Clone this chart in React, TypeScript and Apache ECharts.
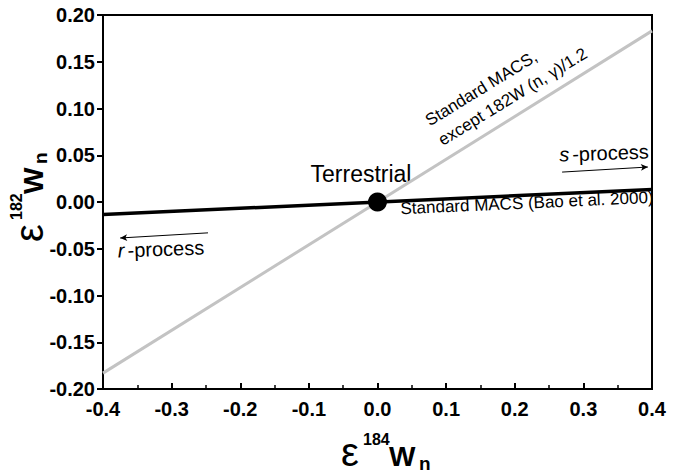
import React, { useEffect, useRef } from "react";
import * as echarts from "echarts";

const FONT = '"Liberation Sans", Arial, sans-serif';

// Data
const xEnds = [-0.4, 0.4];
const standardMacsY = [-0.0135, 0.0135];
const modifiedMacsY = [-0.183, 0.183];
const terrestrialPoint = [0, 0];
const sProcessArrow = [
  [0.269, 0.032],
  [0.394, 0.0374],
];
const rProcessArrow = [
  [-0.247, -0.033],
  [-0.375, -0.0385],
];

function titleChildren(sup: string) {
  const base = { fontFamily: FONT, fill: "#000", align: "left", verticalAlign: "middle" };
  return [
    { type: "text", x: -2, y: -13.9, style: { ...base, text: "ε", fontSize: 40 } },
    { type: "text", x: 20, y: -26.5, style: { ...base, text: sup, fontSize: 16, fontWeight: "bold" } },
    { type: "text", x: 46, y: -9.7, style: { ...base, text: "W", fontSize: 28, fontWeight: "bold" } },
    { type: "text", x: 76, y: -2.6, style: { ...base, text: "n", fontSize: 19, fontWeight: "bold" } },
  ];
}

export default function App() {
  const ref = useRef<HTMLDivElement>(null);
  useEffect(() => {
    if (!ref.current) return;
    const chart = echarts.init(ref.current, null, { renderer: "svg" });
    const option: any = {
      animation: false,
      backgroundColor: "#fff",
      grid: {
        left: 103,
        right: 31,
        top: 15,
        bottom: 85,
        show: true,
        borderColor: "#000",
        borderWidth: 2,
        backgroundColor: "transparent",
      },
      xAxis: {
        type: "value",
        min: -0.4,
        max: 0.4,
        interval: 0.1,
        axisLine: { show: true, onZero: false, lineStyle: { color: "#000", width: 2 } },
        axisTick: { show: true, inside: true, length: 6, lineStyle: { color: "#000", width: 2 } },
        minorTick: { show: true, splitNumber: 2, length: 4, lineStyle: { color: "#000", width: 1.5 } },
        splitLine: { show: false },
        axisLabel: {
          color: "#000",
          fontSize: 20,
          fontWeight: "bold",
          fontFamily: FONT,
          margin: 10,
          formatter: (v: number) => v.toFixed(1),
        },
      },
      yAxis: {
        type: "value",
        min: -0.2,
        max: 0.2,
        interval: 0.05,
        axisLine: { show: true, onZero: false, lineStyle: { color: "#000", width: 2 } },
        axisTick: { show: true, inside: false, length: 6, lineStyle: { color: "#000", width: 2 } },
        splitLine: { show: false },
        axisLabel: {
          color: "#000",
          fontSize: 20,
          fontWeight: "bold",
          fontFamily: FONT,
          margin: 8,
          formatter: (v: number) => v.toFixed(2),
        },
      },
      series: [
        {
          type: "line",
          name: "Standard MACS, except 182W (n, γ)/1.2",
          data: xEnds.map((x, i) => [x, modifiedMacsY[i]]),
          symbol: "none",
          lineStyle: { color: "#c3c3c3", width: 3 },
          silent: true,
        },
        {
          type: "line",
          name: "Standard MACS (Bao et al. 2000)",
          data: xEnds.map((x, i) => [x, standardMacsY[i]]),
          symbol: "none",
          lineStyle: { color: "#000", width: 3.5 },
          silent: true,
          markLine: {
            silent: true,
            symbol: ["none", "arrow"],
            symbolSize: [5, 7],
            label: { show: false },
            lineStyle: { color: "#000", width: 1, type: "solid" },
            data: [
              [{ coord: sProcessArrow[0] }, { coord: sProcessArrow[1] }],
              [{ coord: rProcessArrow[0] }, { coord: rProcessArrow[1] }],
            ],
          },
        },
        {
          type: "scatter",
          name: "Terrestrial",
          data: [terrestrialPoint],
          symbol: "circle",
          symbolSize: 19,
          itemStyle: { color: "#000", opacity: 1 },
          silent: true,
          z: 5,
        },
      ],
      graphic: [
        { type: "group", x: 343, y: 466, children: titleChildren("184") },
        { type: "group", x: 43, y: 240, rotation: Math.PI / 2, children: titleChildren("182") },
        {
          type: "text",
          x: 361,
          y: 174,
          style: { text: "Terrestrial", fontSize: 23, fontFamily: FONT, fill: "#000", align: "center", verticalAlign: "middle" },
        },
        {
          type: "text",
          x: 527,
          y: 203,
          rotation: 0.045,
          style: {
            text: "Standard MACS (Bao et al. 2000)",
            fontSize: 17,
            fontFamily: FONT,
            fill: "#000",
            align: "center",
            verticalAlign: "middle",
          },
        },
        {
          type: "group",
          x: 430,
          y: 127,
          rotation: 0.55,
          children: [
            {
              type: "text",
              x: 0,
              y: -6,
              style: { text: "Standard MACS,", fontSize: 17, fontFamily: FONT, fill: "#000", align: "left", verticalAlign: "middle" },
            },
            {
              type: "text",
              x: 1,
              y: 17.5,
              style: { text: "except 182W (n, γ)/1.2", fontSize: 17, fontFamily: FONT, fill: "#000", align: "left", verticalAlign: "middle" },
            },
          ],
        },
        {
          type: "text",
          x: 604,
          y: 153,
          rotation: 0.035,
          style: {
            text: "{i|s}-process",
            fontSize: 20,
            fontFamily: FONT,
            fill: "#000",
            align: "center",
            verticalAlign: "middle",
            rich: { i: { fontStyle: "italic", fontSize: 20, fontFamily: FONT, padding: [0, 3, 0, 0] } },
          },
        },
        {
          type: "text",
          x: 161,
          y: 249,
          rotation: 0.035,
          style: {
            text: "{i|r}-process",
            fontSize: 20,
            fontFamily: FONT,
            fill: "#000",
            align: "center",
            verticalAlign: "middle",
            rich: { i: { fontStyle: "italic", fontSize: 20, fontFamily: FONT, padding: [0, 3, 0, 0] } },
          },
        },
      ],
    };
    chart.setOption(option);
    return () => chart.dispose();
  }, []);
  return (
    <div
      ref={ref}
      style={{ position: "absolute", left: 0, top: 0, width: 683, height: 474 }}
    />
  );
}
